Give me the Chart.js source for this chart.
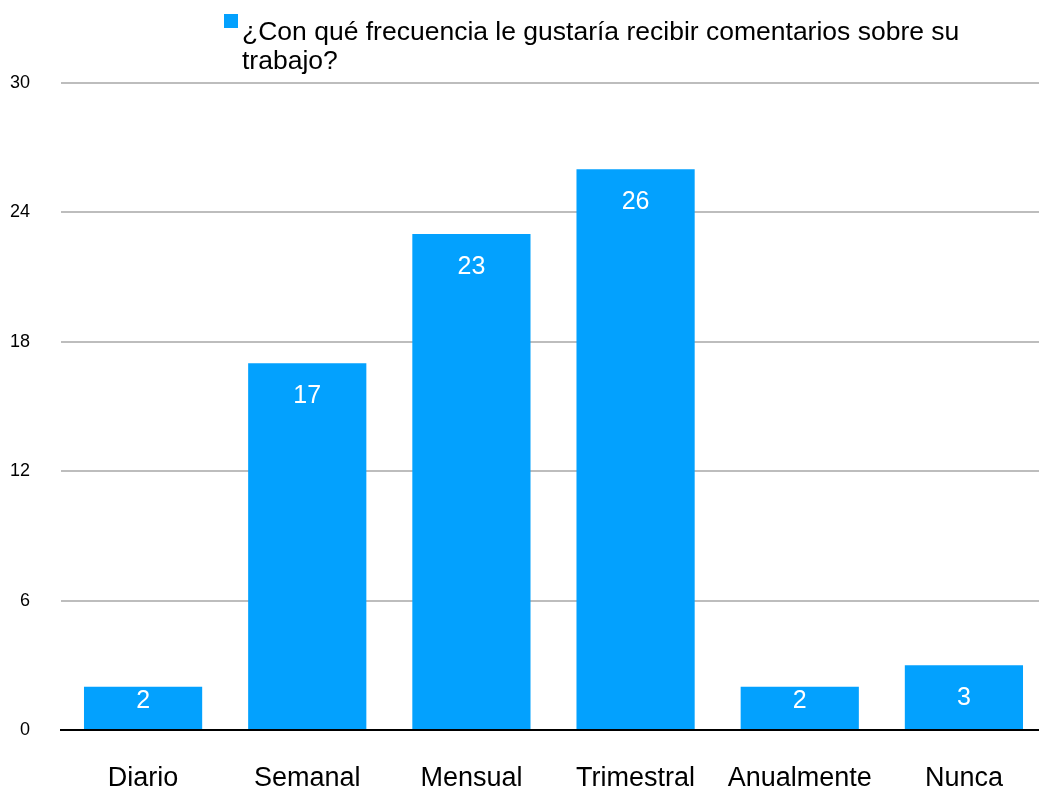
<!DOCTYPE html>
<html>
<head>
<meta charset="utf-8">
<script src="https://cdn.jsdelivr.net/npm/chart.js@4"></script>
<style>
    html, body { margin: 0; padding: 0; background: #fff; overflow: hidden; }
    #wrap { position: relative; width: 1047px; height: 791px; }
</style>
</head>
<body>
<div id="wrap"><canvas id="feedbackChart"></canvas></div>
<script>
// Preferred feedback frequency survey - bar chart

const categories = ['Diario', 'Semanal', 'Mensual', 'Trimestral', 'Anualmente', 'Nunca'];
const responses = [2, 17, 23, 26, 2, 3];
const seriesLabel = '¿Con qué frecuencia le gustaría recibir comentarios sobre su trabajo?';
const yTicks = [0, 6, 12, 18, 24, 30];

const BAR_COLOR = '#03a1fe';
const FONT = '"Liberation Sans", Arial, sans-serif';

// Legend drawn by hand so the long label can wrap onto two lines
const wrappedLegend = {
    id: 'wrappedLegend',
    afterDraw(chart) {
        const ctx = chart.ctx;
        const ds = chart.data.datasets[0];
        const boxX = 224, boxY = 14, box = 14;
        const textX = 242, maxWidth = 795, lineHeight = 29;

        ctx.save();
        ctx.fillStyle = ds.backgroundColor;
        ctx.fillRect(boxX, boxY, box, box);

        ctx.font = '26.5px ' + FONT;
        ctx.fillStyle = '#000';
        ctx.textBaseline = 'alphabetic';
        ctx.textAlign = 'left';

        const words = ds.label.split(' ');
        const lines = [];
        let line = '';
        words.forEach(w => {
            const test = line ? line + ' ' + w : w;
            if (ctx.measureText(test).width > maxWidth && line) {
                lines.push(line);
                line = w;
            } else {
                line = test;
            }
        });
        if (line) lines.push(line);

        lines.forEach((l, i) => ctx.fillText(l, textX, 40 + i * lineHeight));
        ctx.restore();
    }
};

// White value labels inside the top of each bar
const barValues = {
    id: 'barValues',
    afterDatasetsDraw(chart) {
        const ctx = chart.ctx;
        const meta = chart.getDatasetMeta(0);
        ctx.save();
        ctx.font = '25px ' + FONT;
        ctx.fillStyle = '#fff';
        ctx.textAlign = 'center';
        ctx.textBaseline = 'middle';
        meta.data.forEach((bar, i) => {
            const y = Math.min(bar.y + 33, bar.base - 28);
            ctx.fillText(String(responses[i]), bar.x, y);
        });
        ctx.restore();
    }
};

const ctx = document.getElementById('feedbackChart').getContext('2d');
new Chart(ctx, {
    type: 'bar',
    data: {
        labels: categories,
        datasets: [{
            label: seriesLabel,
            data: responses,
            backgroundColor: BAR_COLOR,
            barPercentage: 0.72,
            categoryPercentage: 1.0
        }]
    },
    options: {
        animation: false,
        responsive: true,
        maintainAspectRatio: false,
        layout: {
            padding: { top: 83, right: 1, bottom: 0, left: 0 }
        },
        plugins: {
            legend: { display: false },
            tooltip: { enabled: false }
        },
        scales: {
            x: {
                afterFit(scale) {
                    scale.height = 61;
                },
                grid: { display: false },
                border: { display: true, color: '#000', width: 2 },
                ticks: {
                    color: '#000',
                    padding: 27,
                    maxRotation: 0,
                    font: { family: FONT, size: 27, lineHeight: 1 }
                }
            },
            y: {
                min: 0,
                max: 30,
                afterBuildTicks(scale) {
                    scale.ticks = yTicks.map(v => ({ value: v }));
                },
                afterFit(scale) {
                    scale.width = 61;
                },
                grid: {
                    color: '#bdbdbd',
                    lineWidth: 2,
                    drawTicks: false
                },
                border: { display: false },
                ticks: {
                    color: '#000',
                    padding: 31,
                    font: { family: FONT, size: 18 }
                }
            }
        }
    },
    plugins: [wrappedLegend, barValues]
});
</script>
</body>
</html>
